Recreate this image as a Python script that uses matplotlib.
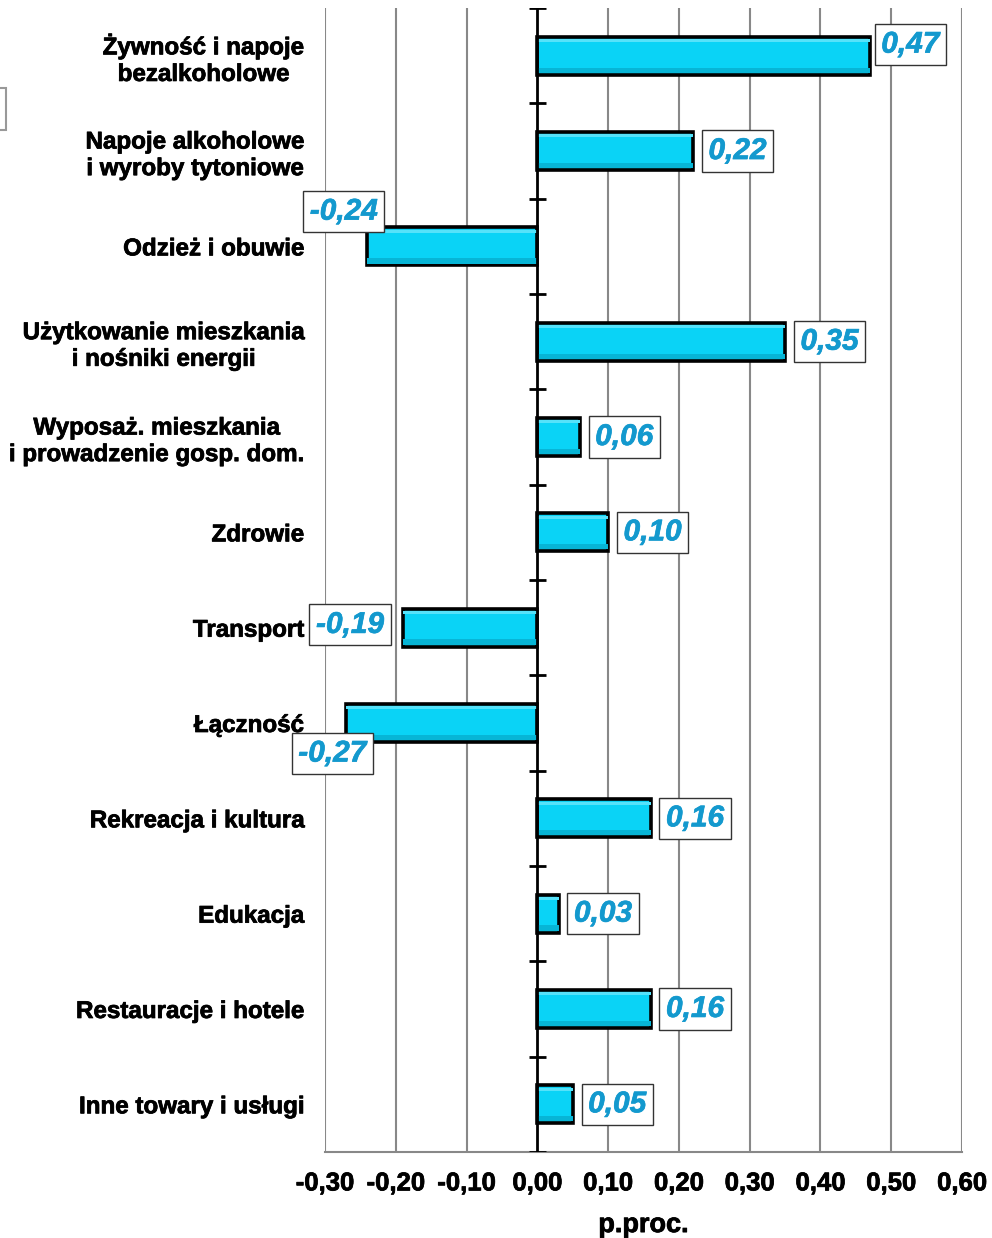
import numpy as np
import matplotlib.pyplot as plt
import matplotlib.patheffects as pe
from matplotlib.patches import Rectangle

plt.rcParams['font.family'] = ['Liberation Sans', 'DejaVu Sans']

categories = [
    "Żywność i napoje\nbezalkoholowe",
    "Napoje alkoholowe\ni wyroby tytoniowe",
    "Odzież i obuwie",
    "Użytkowanie mieszkania\ni nośniki energii",
    "Wyposaż. mieszkania\ni prowadzenie gosp. dom.",
    "Zdrowie",
    "Transport",
    "Łączność",
    "Rekreacja i kultura",
    "Edukacja",
    "Restauracje i hotele",
    "Inne towary i usługi",
]
values = [0.47, 0.22, -0.24, 0.35, 0.06, 0.10, -0.19, -0.27, 0.16, 0.03, 0.16, 0.05]
xticks = [-0.30, -0.20, -0.10, 0.00, 0.10, 0.20, 0.30, 0.40, 0.50, 0.60]

# label offsets in points (hand placed like in the source chart)
label_offsets = {0: (29, 8), 2: (-17, 25), 6: (-38, 2), 7: (-10, -22)}

lbl_col = '#1399CE'
heavy = [pe.withStroke(linewidth=0.55, foreground='black')]
heavy_blue = [pe.withStroke(linewidth=0.5, foreground=lbl_col)]

fig = plt.figure(figsize=(9.92, 12.38), dpi=100)
ax = fig.add_axes([0.3276, 0.0695, 0.6422, 0.924])

y = np.arange(len(categories))
h = 0.40
ax.barh(y, values, height=h, color='#0AD3F6', edgecolor='black', linewidth=2.6, zorder=3)
# soft bevel: light band on top, darker band along the bottom
ax.barh(y - h * 0.40, values, height=h * 0.08, color='#55E2FA', linewidth=0, zorder=4)
ax.barh(y + h * 0.38, values, height=h * 0.14, color='#07B5D6', linewidth=0, zorder=4)

ax.set_ylim(len(categories) - 0.5, -0.5)
ax.set_xlim(-0.30, 0.60)
ax.set_xticks(xticks)
ax.set_xticklabels([f"{t:.2f}".replace('.', ',') for t in xticks],
                   fontsize=18.5, fontweight='bold', path_effects=heavy)
ax.set_yticks(y)
ax.set_yticklabels(categories, fontsize=17.4, fontweight='bold', multialignment='center',
                   path_effects=heavy)
ax.tick_params(axis='y', length=0, pad=15)
ax.tick_params(axis='x', length=0, pad=14)
ax.set_xlabel("p.proc.", fontsize=19.5, fontweight='bold', labelpad=12, path_effects=heavy)

for s in ['top', 'right', 'left']:
    ax.spines[s].set_visible(False)
ax.spines['bottom'].set_color('#888888')
ax.spines['bottom'].set_linewidth(1.5)

for t in xticks:
    if t != 0:
        ax.axvline(t, color='#888888', linewidth=1.5, zorder=1)
ax.axvline(0, color='black', linewidth=2, zorder=5)
bounds = np.arange(len(categories) + 1) - 0.5
ax.hlines(bounds, -0.012, 0.012, color='black', linewidth=2, zorder=5)

for i, v in enumerate(values):
    txt = f"{v:.2f}".replace('.', ',')
    if i in label_offsets:
        dx, dy = label_offsets[i]
    else:
        dx, dy = 32, 0
    ax.annotate(txt, xy=(v, i), xytext=(dx, dy), textcoords='offset points',
                ha='center', va='center', fontsize=21.5, fontweight='bold',
                fontstyle='italic', color=lbl_col, zorder=6, path_effects=heavy_blue,
                bbox=dict(boxstyle='square,pad=0.22', fc='white', ec='#333333', lw=1))

# cut-off legend box on the left edge
fig.patches.append(Rectangle((-0.01, 0.895), 0.016, 0.034, transform=fig.transFigure,
                             fc='white', ec='#999999', lw=1.5))

fig.savefig('out.png', dpi=100)
